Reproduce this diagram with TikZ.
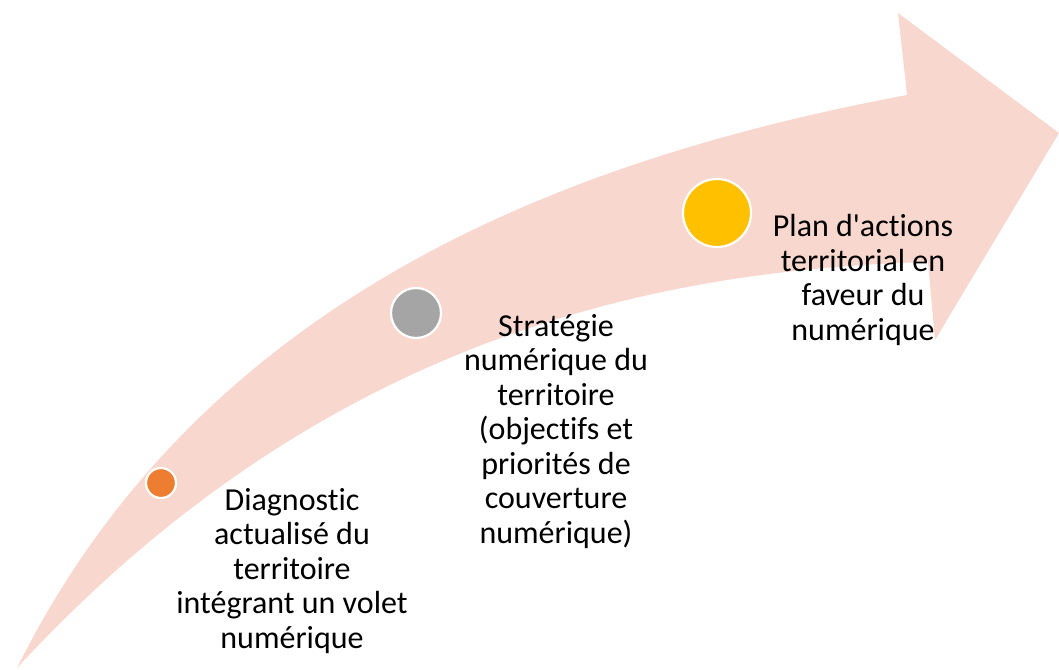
\documentclass[tikz,border=0pt]{standalone}
\usepackage{fontspec}
\setmainfont{Carlito}[Ligatures={NoCommon}]
\begin{document}
\begin{tikzpicture}[x=1pt,y=-1pt,
  dot/.style={circle,draw=white,line width=2.2pt,inner sep=0pt},
  lbl/.style={align=center,inner sep=0pt,anchor=base,font=\fontsize{32}{34.5}\selectfont}]
\definecolor{bandpink}{RGB}{248,216,206}
\definecolor{dotorange}{HTML}{ED7D31}
\definecolor{dotgray}{HTML}{A5A5A5}
\definecolor{dotyellow}{HTML}{FFC000}
\useasboundingbox (0,0) rectangle (1059,669);
% curved arrow
\fill[bandpink] (17,668) .. controls (200,300) and (560,160) .. (907,95)
  -- (898,13) -- (1059,133) -- (935,340) -- (928,262)
  .. controls (650,270) and (320,340) .. (17,668) -- cycle;
% dots
\node[dot,fill=dotorange,minimum size=30pt] (d1) at (161,483) {};
\node[dot,fill=dotgray,minimum size=50pt] (d2) at (416,313) {};
\node[dot,fill=dotyellow,minimum size=68pt] (d3) at (717,213) {};
% labels (anchor = baseline of last line)
\node[lbl] (t1) at (292,648) {Diagnostic\\actualisé du\\territoire\\intégrant un volet\\numérique};
\node[lbl] (t2) at (556,543) {Stratégie\\numérique du\\territoire\\(objectifs et\\priorités de\\couverture\\numérique)};
\node[lbl] (t3) at (863,340) {Plan d\textquotesingle actions\\territorial en\\faveur du\\numérique};
\end{tikzpicture}
\end{document}
